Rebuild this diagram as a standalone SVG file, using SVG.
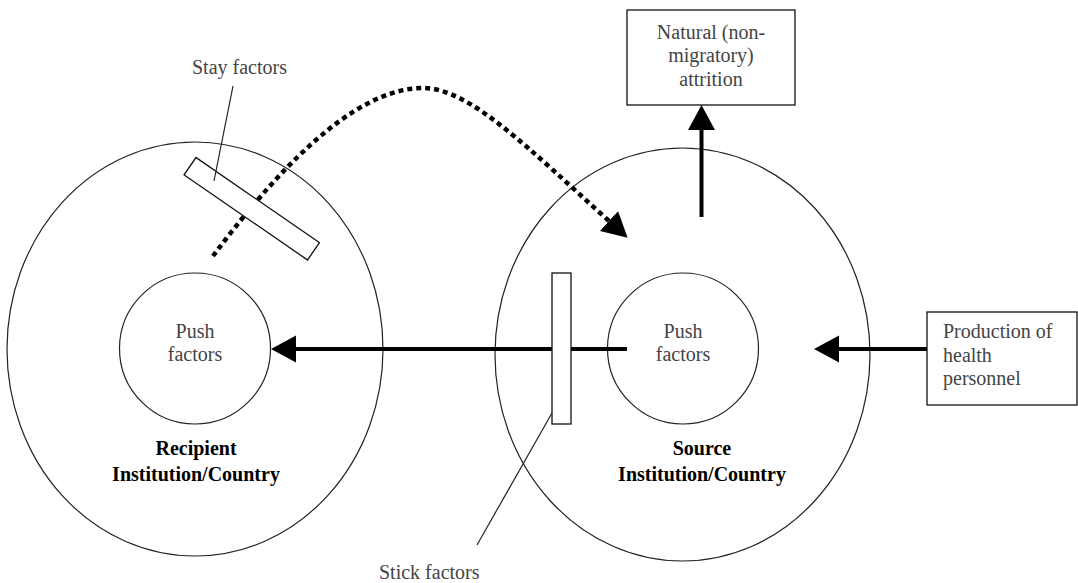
<svg xmlns="http://www.w3.org/2000/svg" width="1078" height="583" viewBox="0 0 1078 583">
<style>
.ring{fill:none;stroke:#222;stroke-width:1.2}
.box{fill:#fff;stroke:#111;stroke-width:1.3}
.lbl{font-family:"Liberation Serif","Times New Roman",serif;font-size:20px;fill:#444}
.bold{font-family:"Liberation Serif","Times New Roman",serif;font-size:20px;font-weight:bold;fill:#000}
.thick{fill:none;stroke:#000;stroke-width:4}
.dot{fill:none;stroke:#000;stroke-width:4.5;stroke-dasharray:5 4}
.lead{fill:none;stroke:#222;stroke-width:1.2}
</style>
<defs>
<marker id="ah" markerUnits="userSpaceOnUse" markerWidth="26" markerHeight="28" refX="0" refY="13.5" orient="auto" viewBox="0 0 26 28">
<path d="M0,0 L25,13.5 L0,27 Z" fill="#000"/>
</marker>
</defs>
<g id="recipient">
<ellipse class="ring" cx="195" cy="349" rx="188" ry="207"/>
<text class="bold" x="196" y="455" text-anchor="middle">Recipient</text>
<text class="bold" x="196" y="481" text-anchor="middle">Institution/Country</text>
</g>
<g id="recipient-push">
<circle class="ring" cx="195" cy="348.5" r="75.5"/>
<text class="lbl" x="195" y="338" text-anchor="middle">Push</text>
<text class="lbl" x="195" y="361" text-anchor="middle">factors</text>
</g>
<g id="source">
<ellipse class="ring" cx="682.5" cy="354.5" rx="187.5" ry="206.5"/>
<text class="bold" x="702" y="455" text-anchor="middle">Source</text>
<text class="bold" x="702" y="481" text-anchor="middle">Institution/Country</text>
</g>
<g id="source-push">
<circle class="ring" cx="683" cy="348.5" r="75.5"/>
<text class="lbl" x="683" y="338" text-anchor="middle">Push</text>
<text class="lbl" x="683" y="361" text-anchor="middle">factors</text>
</g>
<g id="attrition">
<rect class="box" x="627" y="10" width="168" height="95"/>
<text class="lbl" x="711" y="38.5" text-anchor="middle">Natural (non-</text>
<text class="lbl" x="711" y="62" text-anchor="middle">migratory)</text>
<text class="lbl" x="711" y="85.5" text-anchor="middle">attrition</text>
</g>
<g id="production">
<rect class="box" x="927" y="312" width="150" height="93"/>
<text class="lbl" x="943" y="338">Production of</text>
<text class="lbl" x="943" y="361.5">health</text>
<text class="lbl" x="943" y="384.5">personnel</text>
</g>
<g id="connectors">
<path class="dot" d="M213,256 C270,180 350,88 423,88 C470,88 530,150 609,221" marker-end="url(#ah)"/>
<line class="thick" x1="627" y1="349" x2="296" y2="349" marker-end="url(#ah)"/>
<line class="thick" x1="927" y1="349" x2="839" y2="349" marker-end="url(#ah)"/>
<line class="thick" x1="701.5" y1="217" x2="701.5" y2="130" marker-end="url(#ah)"/>
</g>
<g id="stay-factors">
<rect class="box" x="-75" y="-10.5" width="150" height="21" transform="translate(251.75,208.75) rotate(34.6)"/>
<line class="lead" x1="233" y1="86" x2="214" y2="181"/>
<text class="lbl" x="192" y="74">Stay factors</text>
</g>
<g id="stick-factors">
<rect class="box" x="552" y="273" width="19" height="151"/>
<line class="lead" x1="552" y1="413" x2="477" y2="545"/>
<text class="lbl" x="379" y="579">Stick factors</text>
</g>
</svg>
